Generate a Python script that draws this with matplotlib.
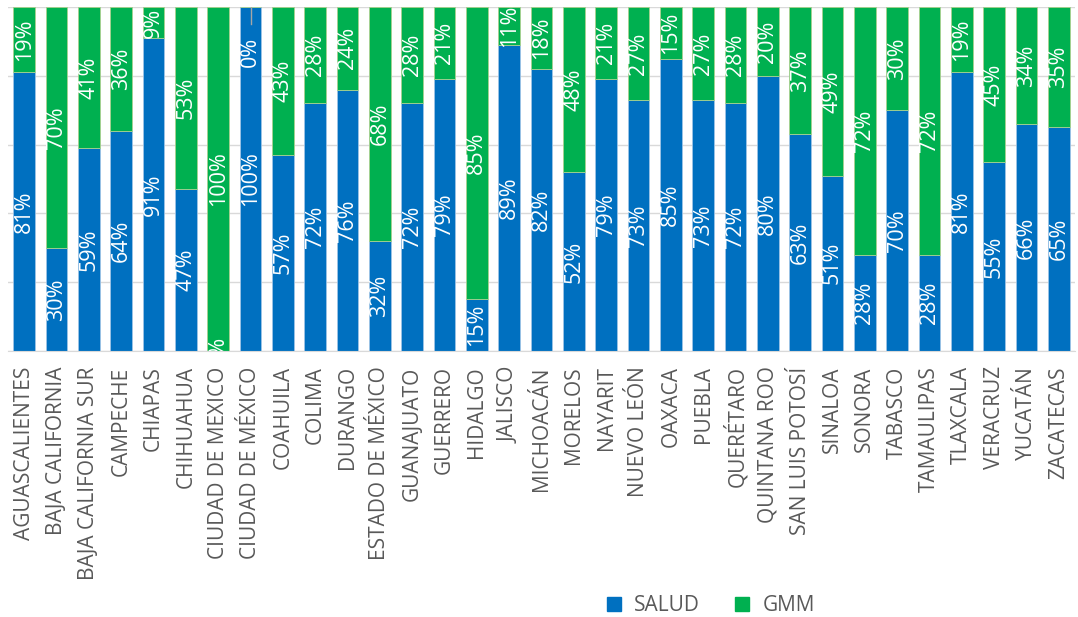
import numpy as np
import matplotlib.pyplot as plt
from matplotlib.lines import Line2D

# data
estados = ['AGUASCALIENTES', 'BAJA CALIFORNIA', 'BAJA CALIFORNIA SUR', 'CAMPECHE',
           'CHIAPAS', 'CHIHUAHUA', 'CIUDAD DE MEXICO', 'CIUDAD DE MÉXICO', 'COAHUILA',
           'COLIMA', 'DURANGO', 'ESTADO DE MÉXICO', 'GUANAJUATO', 'GUERRERO', 'HIDALGO',
           'JALISCO', 'MICHOACÁN', 'MORELOS', 'NAYARIT', 'NUEVO LEÓN', 'OAXACA', 'PUEBLA',
           'QUERÉTARO', 'QUINTANA ROO', 'SAN LUIS POTOSÍ', 'SINALOA', 'SONORA', 'TABASCO',
           'TAMAULIPAS', 'TLAXCALA', 'VERACRUZ', 'YUCATÁN', 'ZACATECAS']
salud = [81, 30, 59, 64, 91, 47, 0, 100, 57, 72, 76, 32, 72, 79, 15, 89, 82, 52, 79,
         73, 85, 73, 72, 80, 63, 51, 28, 70, 28, 81, 55, 66, 65]
gmm = [19, 70, 41, 36, 9, 53, 100, 0, 43, 28, 24, 68, 28, 21, 85, 11, 18, 48, 21,
       27, 15, 27, 28, 20, 37, 49, 72, 30, 72, 19, 45, 34, 35]

azul = '#0070C0'
verde = '#00B050'

plt.rcParams['font.family'] = ['Open Sans', 'DejaVu Sans']

fig = plt.figure(figsize=(10.78, 6.17), dpi=100)
ax = fig.add_axes([8 / 1078, 1 - 351 / 617, 1067 / 1078, 344 / 617])

x = np.arange(len(estados))
tot = np.array(salud) + np.array(gmm)
s = np.array(salud) / tot * 100
g = np.array(gmm) / tot * 100

ax.bar(x, s, width=0.68, color=azul, edgecolor='#9DC3E6', linewidth=0.6, zorder=2)
ax.bar(x, g, width=0.68, bottom=s, color=verde, edgecolor='#A9D18E', linewidth=0.6, zorder=2)

# data labels
fs = 15.5
for i in range(len(x)):
    ax.text(x[i], s[i] / 2, f'{salud[i]}%', rotation=90, ha='center', va='center',
            color='white', fontsize=fs, zorder=3, clip_on=True)
    if gmm[i] == 0:
        # label pushed down inside the bar, with a small leader line
        ax.text(x[i], 87, f'{gmm[i]}%', rotation=90, ha='center', va='center',
                color='white', fontsize=fs, zorder=3)
        ax.plot([x[i], x[i]], [95, 100], color='#A6A6A6', lw=1, zorder=3)
    else:
        ax.text(x[i], s[i] + g[i] / 2, f'{gmm[i]}%', rotation=90, ha='center', va='center',
                color='white', fontsize=fs, zorder=3, clip_on=True)

ax.set_xlim(-0.5, len(x) - 0.5)
ax.set_ylim(0, 100)
ax.set_yticks([0, 20, 40, 60, 80, 100])
ax.set_yticklabels([])
ax.tick_params(axis='y', length=0)
ax.yaxis.grid(True, color='#D9D9D9', lw=1, zorder=0)
ax.set_axisbelow(True)

ax.set_xticks(x)
ax.set_xticklabels(estados, rotation=90, fontsize=15, color='#595959')
ax.tick_params(axis='x', length=0, pad=11)

for side in ['top', 'right', 'left']:
    ax.spines[side].set_visible(False)
ax.spines['bottom'].set_color('#D9D9D9')

handles = [Line2D([], [], marker='s', ls='', color=azul, markersize=10),
           Line2D([], [], marker='s', ls='', color=verde, markersize=10)]
fig.legend(handles, ['SALUD', 'GMM'], loc='center', bbox_to_anchor=(0.653, 0.018),
           ncol=2, frameon=False, fontsize=15, labelcolor='#595959',
           handletextpad=0.0, columnspacing=1.0)

fig.savefig('out.png', dpi=100)
